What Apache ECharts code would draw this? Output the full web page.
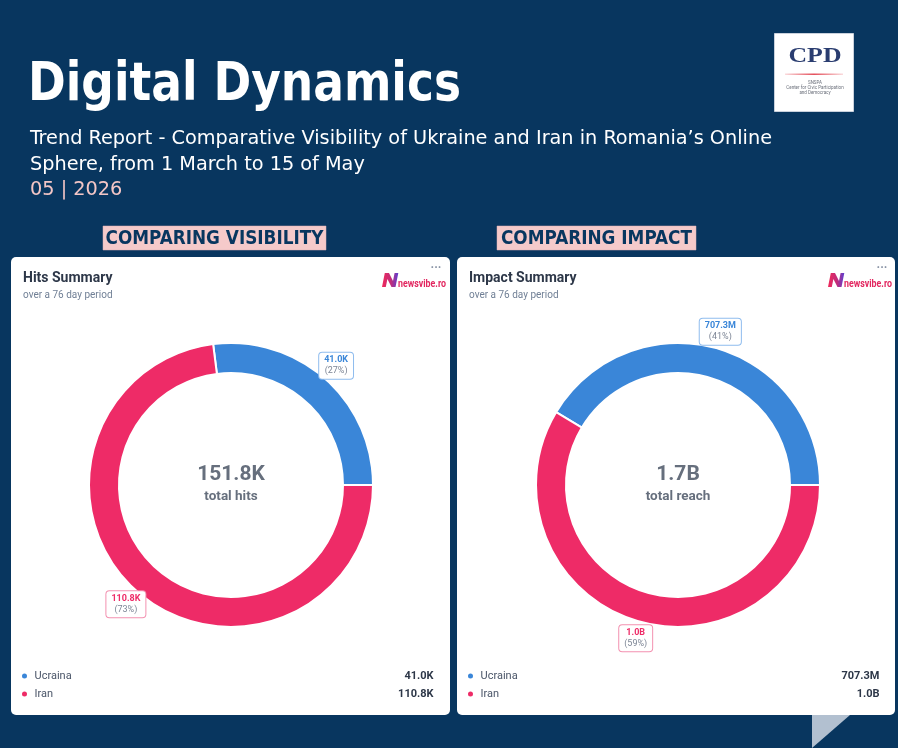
<!DOCTYPE html>
<html>
<head>
<meta charset="utf-8">
<script src="https://cdn.jsdelivr.net/npm/echarts@6/dist/echarts.min.js"></script>
<style>html,body{margin:0;padding:0;background:#08365f;}#c{width:898px;height:748px;}</style>
</head>
<body>
<div id="c"></div>
<script>
// ---------- data ----------
const names = ['Ucraina', 'Iran'];
const hitsValues = [41000, 110800];
const reachValues = [707300000, 1000000000];
const panelTitles = ['Hits Summary', 'Impact Summary'];
const panelSubtitles = ['over a 76 day period', 'over a 76 day period'];
const centerCaptions = ['total hits', 'total reach'];
const sectionHeaders = ['COMPARING VISIBILITY', 'COMPARING IMPACT'];
const reportTitle = 'Digital Dynamics';
const reportLines = ["Trend Report - Comparative Visibility of Ukraine and Iran in Romania\u2019s Online", 'Sphere, from 1 March to 15 of May'];
const reportDate = '05 | 2026';

// ---------- styles ----------
const sliceColors = ['#3a86d8', '#ee2b67'];
const labelBorders = ['#8fbcee', '#f391b0'];
const NAVY = '#08365f';
const PINK = '#f5caca';

function fmt(v) {
  if (v >= 1e9) return (v / 1e9).toFixed(1) + 'B';
  if (v >= 1e6) return (v / 1e6).toFixed(1) + 'M';
  if (v >= 1e3) return (v / 1e3).toFixed(1) + 'K';
  return String(v);
}
const mctx = document.createElement('canvas').getContext('2d');
function measure(text, font) { mctx.font = font; return mctx.measureText(text).width; }

function txt(x, y, text, o) {
  o = o || {};
  const st = {
    text: text, fill: o.fill || '#fff',
    fontFamily: o.family || 'Roboto', fontSize: o.size || 12,
    fontWeight: o.weight || 'normal', fontStyle: o.style || 'normal',
    align: o.align || 'left', textAlign: o.align || 'left',
    verticalAlign: 'middle', textVerticalAlign: 'middle'
  };
  return { type: 'text', x: x, y: y, scaleX: o.scaleX || 1, silent: true, z: o.z || 10, style: st };
}

const chart = echarts.init(document.getElementById('c'), null, { renderer: 'canvas' });
const graphics = [];

// header
const titleFont = 'bold 54px "DejaVu Sans"';
const titleScale = 433 / measure(reportTitle, titleFont);
graphics.push(txt(28, 86, reportTitle, { family: 'DejaVu Sans', size: 54, weight: 'bold', scaleX: titleScale }));
const subFont = 'normal 19.5px "DejaVu Sans Condensed"';
const subScale = 742 / measure(reportLines[0], subFont);
graphics.push(txt(30, 139, reportLines[0], { family: '"DejaVu Sans Condensed"', size: 19.5, scaleX: subScale }));
graphics.push(txt(30, 164.5, reportLines[1], { family: '"DejaVu Sans Condensed"', size: 19.5, scaleX: subScale }));
graphics.push(txt(30, 190, reportDate, { family: '"DejaVu Sans Condensed"', size: 19.5, scaleX: subScale, fill: '#f3c6c6' }));

// section headers
const secFont = 'bold 20px "DejaVu Sans Condensed"';
const secScale = 218 / measure(sectionHeaders[0], secFont);
const secBoxes = [[103, 226, 223, 24], [497, 226, 199, 24]];
secBoxes.forEach(function (b, i) {
  graphics.push({ type: 'rect', shape: { x: b[0], y: b[1], width: b[2], height: b[3] }, style: { fill: PINK, stroke: '#e3b3b6', lineWidth: 0.5 }, silent: true, z: 5 });
  const w = measure(sectionHeaders[i], secFont) * secScale;
  graphics.push(txt(b[0] + (b[2] - w) / 2, b[1] + 12.5, sectionHeaders[i], { family: '"DejaVu Sans Condensed"', size: 20, weight: 'bold', fill: NAVY, scaleX: secScale }));
});

// CPD logo
graphics.push({ type: 'rect', shape: { x: 774.5, y: 33.5, width: 79, height: 78 }, style: { fill: '#fff', stroke: '#c9d1dc', lineWidth: 1 }, silent: true, z: 5 });
const cpdFont = 'bold 22px "Liberation Serif"';
graphics.push(txt(815, 56, 'CPD', { family: '"Liberation Serif"', size: 22, weight: 'bold', fill: '#2a3d70', align: 'center', scaleX: 53 / measure('CPD', cpdFont) }));
graphics.push({ type: 'rect', shape: { x: 785, y: 73.5, width: 58, height: 1.6 }, style: { fill: new echarts.graphic.LinearGradient(0, 0, 1, 0, [{ offset: 0, color: 'rgba(230,80,90,0.2)' }, { offset: 0.5, color: '#e4505c' }, { offset: 1, color: 'rgba(230,80,90,0.2)' }]) }, silent: true, z: 10 });
graphics.push(txt(815, 82.5, 'SNSPA', { size: 4.5, fill: '#6a6f7a', align: 'center' }));
graphics.push(txt(815, 87.5, 'Center for Civic Participation', { size: 4.5, fill: '#6a6f7a', align: 'center' }));
graphics.push(txt(815, 92.5, 'and Democracy', { size: 4.5, fill: '#6a6f7a', align: 'center' }));

// bottom-right triangle
graphics.push({ type: 'polygon', shape: { points: [[812, 715], [850, 715], [812, 748]] }, style: { fill: '#b2c0d0' }, silent: true, z: 1 });

function nLogo(x0, yb) {
  // italic "N" mark, 15 wide and 14 high, slanted
  const base = [[0, 14], [0, 0], [4.2, 0], [9.8, 8], [9.8, 0], [13.5, 0], [13.5, 14], [9.5, 14], [3.8, 6], [3.8, 14]];
  const pts = base.map(function (q) { return [x0 + q[0] + (14 - q[1]) * 0.2, yb - 14 + q[1]]; });
  return { type: 'polygon', shape: { points: pts }, silent: true, z: 10,
    style: { fill: new echarts.graphic.LinearGradient(0, 0, 1, 0, [{ offset: 0, color: '#f0295a' }, { offset: 0.55, color: '#c12c7a' }, { offset: 1, color: '#5b3fd2' }]) } };
}

const panels = [
  { values: hitsValues, cardX: 11, cardW: 439, cx: 231 },
  { values: reachValues, cardX: 457, cardW: 438, cx: 678 }
];
const series = [];
const legends = [];
const cy = 485;
const nvFont = 'bold 10px Roboto';
const nvScale = 48 / measure('newsvibe.ro', nvFont);

panels.forEach(function (p, k) {
  const total = p.values.reduce(function (a, b) { return a + b; }, 0);
  const startAngle = 360 * p.values[0] / total;
  // card
  graphics.push({ type: 'rect', shape: { x: p.cardX, y: 257, width: p.cardW, height: 458, r: 5 }, style: { fill: '#fff' }, silent: true, z: 0 });
  graphics.push(txt(p.cardX + 12, 278.5, panelTitles[k], { size: 14, weight: 'bold', fill: '#2d3748' }));
  graphics.push(txt(p.cardX + 12, 295, panelSubtitles[k], { size: 10, fill: '#718096' }));
  // newsvibe mark
  const nx = p.cardX + 371;
  graphics.push(nLogo(nx, 287));
  graphics.push(txt(nx + 16, 284, 'newsvibe.ro', { size: 10, weight: 'bold', fill: '#e2265f', scaleX: nvScale }));
  graphics.push(txt(p.cardX + 425, 269, '\u00b7\u00b7\u00b7', { size: 12, weight: 'bold', fill: '#8a94a6', align: 'center' }));
  // center texts
  graphics.push(txt(p.cx, 475, fmt(total), { size: 21, weight: 'bold', fill: '#666f7d', align: 'center' }));
  graphics.push(txt(p.cx, 497, centerCaptions[k], { size: 13.5, weight: 'bold', fill: '#666f7d', align: 'center' }));

  series.push({
    type: 'pie', center: [p.cx, cy], radius: [112, 142], startAngle: startAngle, clockwise: true,
    silent: true, animation: false, label: { show: false }, labelLine: { show: false },
    itemStyle: { borderColor: '#fff', borderWidth: 2 },
    data: names.map(function (n, i) { return { name: n, value: p.values[i], itemStyle: { color: sliceColors[i] } }; })
  });
  series.push({
    type: 'pie', center: [p.cx, cy], radius: [150, 162], startAngle: startAngle, clockwise: true,
    silent: true, animation: false, avoidLabelOverlap: false, labelLine: { show: false },
    itemStyle: { color: 'rgba(0,0,0,0)' }, z: 5,
    label: {
      show: true, position: 'inside', backgroundColor: '#fff', borderWidth: 1, borderRadius: 3, padding: [2, 5],
      formatter: function (pr) { return '{v' + pr.dataIndex + '|' + fmt(pr.value) + '}\n{p|(' + Math.round(pr.percent) + '%)}'; },
      rich: {
        v0: { fontFamily: 'Roboto', fontSize: 9, fontWeight: 'bold', color: sliceColors[0], lineHeight: 11, align: 'center' },
        v1: { fontFamily: 'Roboto', fontSize: 9, fontWeight: 'bold', color: sliceColors[1], lineHeight: 11, align: 'center' },
        p: { fontFamily: 'Roboto', fontSize: 9, color: '#7d8696', lineHeight: 11, align: 'center' }
      }
    },
    data: names.map(function (n, i) { return { name: n, value: p.values[i], label: { borderColor: labelBorders[i] } }; })
  });
  legends.push({
    orient: 'vertical', left: p.cardX + 9, top: 669, itemWidth: 10, itemHeight: 7, itemGap: 4, icon: 'circle',
    selectedMode: false, padding: 0,
    data: names.map(function (n, i) { return { name: n, itemStyle: { color: sliceColors[i] } }; }),
    formatter: function (name) { const i = names.indexOf(name); return '{n|' + name + '}{v|' + fmt(p.values[i]) + '}'; },
    textStyle: {
      lineHeight: 14,
      rich: {
        n: { width: 339, fontFamily: 'Roboto', fontSize: 11, color: '#4a5568', lineHeight: 14 },
        v: { width: 60, align: 'right', fontFamily: 'Roboto', fontSize: 11, fontWeight: 'bold', color: '#2d3748', lineHeight: 14 }
      }
    }
  });
});

chart.setOption({
  backgroundColor: NAVY,
  animation: false,
  legend: legends,
  series: series,
  graphic: { elements: graphics }
});
</script>
</body>
</html>
